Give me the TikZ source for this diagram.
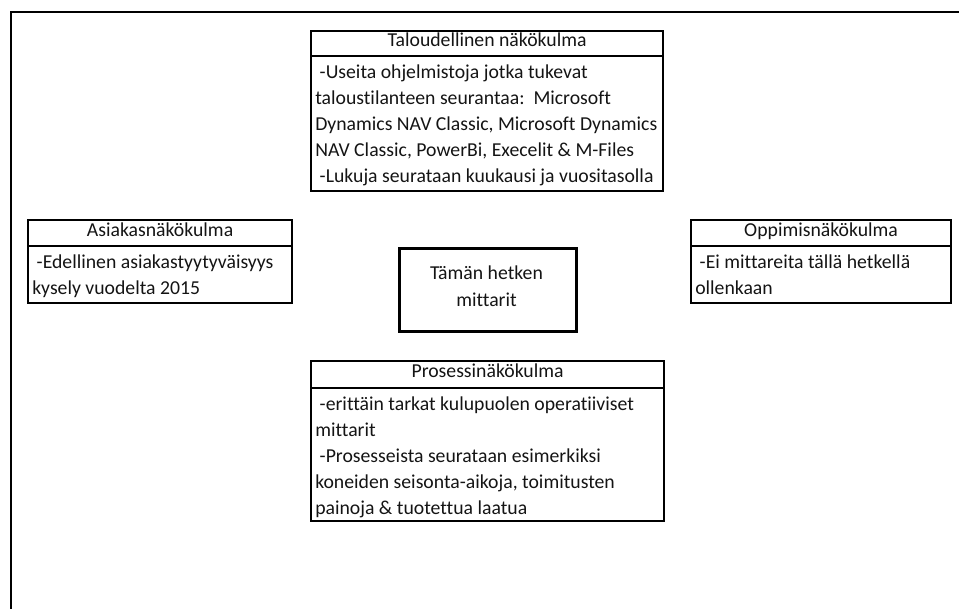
\documentclass[tikz,border=0pt]{standalone}
\usepackage{fontspec}
\setmainfont{Carlito}[Ligatures=NoCommon]
\newcommand\pxu{0.75pt}
\begin{document}
\begin{tikzpicture}[x=0.75pt,y=-0.75pt,
  every node/.style={inner sep=0pt, font=\fontsize{14.8}{19}\selectfont, text=black!92},
  frame/.style={line width=1.6pt},
  boxpart/.style={draw, line width=1.6pt, anchor=north west, text height=0.47em, text depth=0pt},
  bodyline/.style={anchor=base west},
  centrebox/.style={draw, line width=2.4pt, anchor=north west, align=center}]
\useasboundingbox (0,0) rectangle (959,609);
% outer frame
\coordinate (ftl) at (11,12);
\coordinate (ftr) at (959,12);
\coordinate (fbl) at (11,609);
\draw[frame] (ftr) -- (ftl) -- (fbl);

% Taloudellinen
\node[boxpart, minimum width=352*\pxu, minimum height=25*\pxu] (finH) at (310,30) {Taloudellinen näkökulma};
\node[boxpart, minimum width=352*\pxu, minimum height=135*\pxu] (finB) at (310,55) {};
\node[bodyline] (fin1) at (315,78.5) {\ -Useita ohjelmistoja jotka tukevat};
\node[bodyline] (fin2) at (315,104.5) {taloustilanteen seurantaa:\ \ Microsoft};
\node[bodyline] (fin3) at (315,130.5) {Dynamics NAV Classic, Microsoft Dynamics};
\node[bodyline] (fin4) at (315,156.5) {NAV Classic, PowerBi, Execelit \& M-Files};
\node[bodyline] (fin5) at (315,182.5) {\ -Lukuja seurataan kuukausi ja vuositasolla};

% Asiakas
\node[boxpart, minimum width=264*\pxu, minimum height=26*\pxu] (cusH) at (27,219) {Asiakasnäkökulma};
\node[boxpart, minimum width=264*\pxu, minimum height=57*\pxu] (cusB) at (27,245) {};
\node[bodyline] (cus1) at (32,268.5) {\ -Edellinen asiakastyytyväisyys};
\node[bodyline] (cus2) at (32,294.5) {kysely vuodelta 2015};

% Oppimis
\node[boxpart, minimum width=260*\pxu, minimum height=26*\pxu] (lrnH) at (690,219) {Oppimisnäkökulma};
\node[boxpart, minimum width=260*\pxu, minimum height=57*\pxu] (lrnB) at (690,245) {};
\node[bodyline] (lrn1) at (695,268.5) {\ -Ei mittareita tällä hetkellä};
\node[bodyline] (lrn2) at (695,294.5) {ollenkaan};

% Centre
\node[centrebox, minimum width=177*\pxu, minimum height=83*\pxu] (ctr) at (398,247) {};
\node[anchor=base] (ctr1) at (486.5,280) {Tämän hetken};
\node[anchor=base] (ctr2) at (486.5,306) {mittarit};

% Prosessi
\node[boxpart, minimum width=353*\pxu, minimum height=27*\pxu] (proH) at (310,360) {Prosessinäkökulma};
\node[boxpart, minimum width=353*\pxu, minimum height=133*\pxu] (proB) at (310,387) {};
\node[bodyline] (pro1) at (315,410.5) {\ -erittäin tarkat kulupuolen operatiiviset};
\node[bodyline] (pro2) at (315,436.5) {mittarit};
\node[bodyline] (pro3) at (315,462.5) {\ -Prosesseista seurataan esimerkiksi};
\node[bodyline] (pro4) at (315,488.5) {koneiden seisonta-aikoja, toimitusten};
\node[bodyline] (pro5) at (315,514.5) {painoja \& tuotettua laatua};
\end{tikzpicture}
\end{document}
